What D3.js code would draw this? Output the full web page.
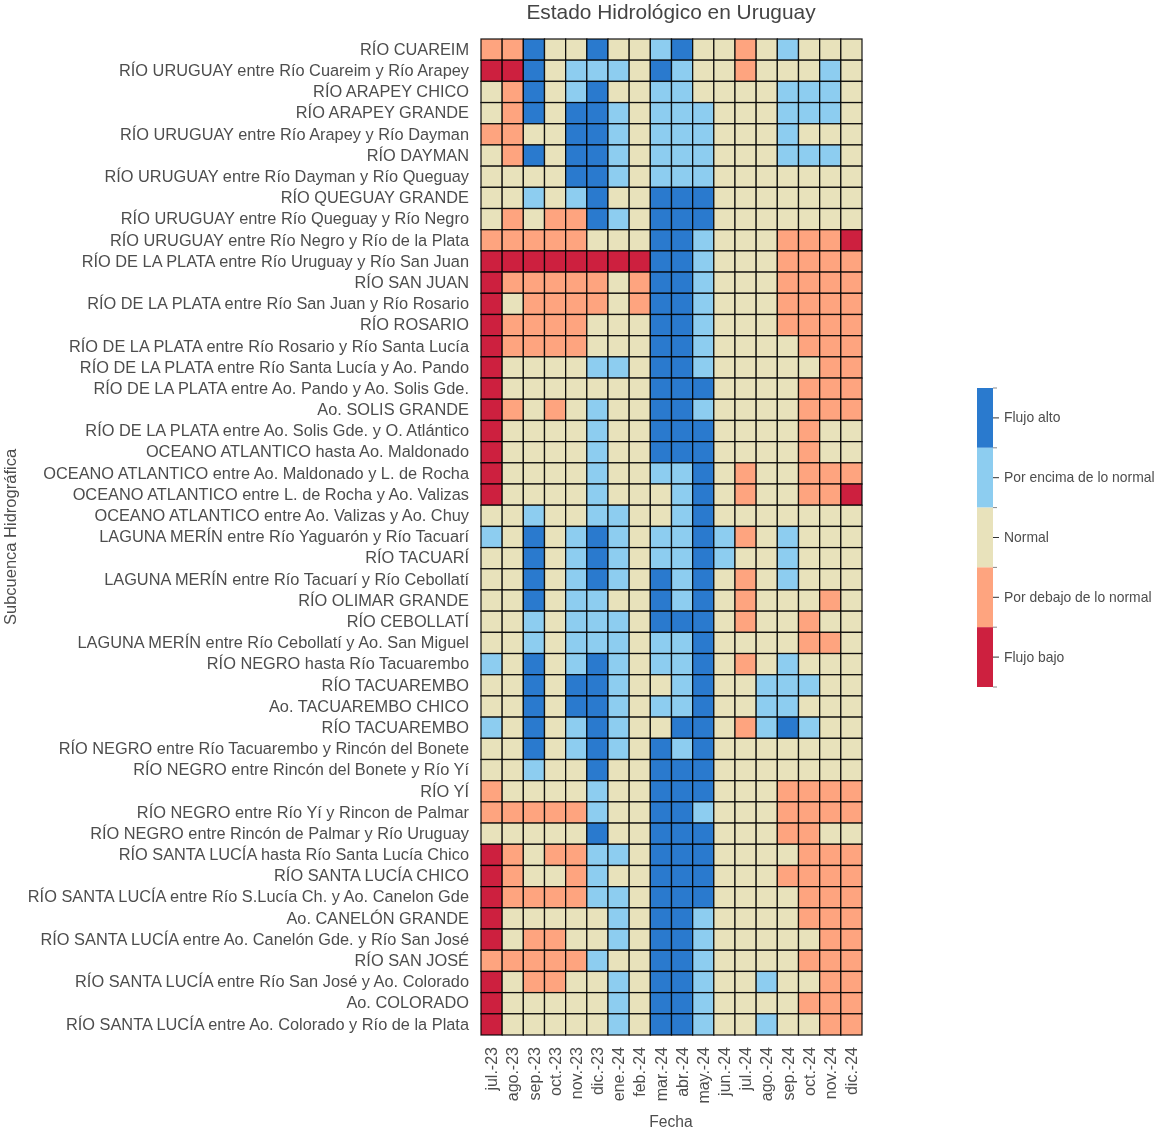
<!DOCTYPE html>
<html>
<head>
<meta charset="utf-8">
<script src="https://cdn.jsdelivr.net/npm/d3@7"></script>
<style>
    body { margin: 0; background: #ffffff; }
    svg { display: block; filter: blur(0.6px); }
    text { font-family: "Liberation Sans", Arial, sans-serif; fill: #4d4d4d; }
</style>
</head>
<body>
<div id="chart"></div>
<script>
// Categories
const subcuencas = [
    "RÍO CUAREIM",
    "RÍO URUGUAY entre Río Cuareim y Río Arapey",
    "RÍO ARAPEY CHICO",
    "RÍO ARAPEY GRANDE",
    "RÍO URUGUAY entre Río Arapey y Río Dayman",
    "RÍO DAYMAN",
    "RÍO URUGUAY entre Río Dayman y Río Queguay",
    "RÍO QUEGUAY GRANDE",
    "RÍO URUGUAY entre Río Queguay y Río Negro",
    "RÍO URUGUAY entre Río Negro y Río de la Plata",
    "RÍO DE LA PLATA entre Río Uruguay y Río San Juan",
    "RÍO SAN JUAN",
    "RÍO DE LA PLATA entre Río San Juan y Río Rosario",
    "RÍO ROSARIO",
    "RÍO DE LA PLATA entre Río Rosario y Río Santa Lucía",
    "RÍO DE LA PLATA entre Río Santa Lucía y Ao. Pando",
    "RÍO DE LA PLATA entre Ao. Pando y Ao. Solis Gde.",
    "Ao. SOLIS GRANDE",
    "RÍO DE LA PLATA entre Ao. Solis Gde. y O. Atlántico",
    "OCEANO ATLANTICO hasta Ao. Maldonado",
    "OCEANO ATLANTICO entre Ao. Maldonado y L. de Rocha",
    "OCEANO ATLANTICO entre L. de Rocha y Ao. Valizas",
    "OCEANO ATLANTICO entre Ao. Valizas y Ao. Chuy",
    "LAGUNA MERÍN entre Río Yaguarón y Río Tacuarí",
    "RÍO TACUARÍ",
    "LAGUNA MERÍN entre Río Tacuarí y Río Cebollatí",
    "RÍO OLIMAR GRANDE",
    "RÍO CEBOLLATÍ",
    "LAGUNA MERÍN entre Río Cebollatí y Ao. San Miguel",
    "RÍO NEGRO hasta Río Tacuarembo",
    "RÍO TACUAREMBO",
    "Ao. TACUAREMBO CHICO",
    "RÍO TACUAREMBO ",
    "RÍO NEGRO entre Río Tacuarembo y Rincón del Bonete",
    "RÍO NEGRO entre Rincón del Bonete y Río Yí",
    "RÍO YÍ",
    "RÍO NEGRO entre Río Yí y Rincon de Palmar",
    "RÍO NEGRO entre Rincón de Palmar y Río Uruguay",
    "RÍO SANTA LUCÍA hasta Río Santa Lucía Chico",
    "RÍO SANTA LUCÍA CHICO",
    "RÍO SANTA LUCÍA entre Río S.Lucía Ch. y Ao. Canelon Gde",
    "Ao. CANELÓN GRANDE",
    "RÍO SANTA LUCÍA entre Ao. Canelón Gde. y Río San José",
    "RÍO SAN JOSÉ",
    "RÍO SANTA LUCÍA entre Río San José y Ao. Colorado",
    "Ao. COLORADO",
    "RÍO SANTA LUCÍA entre Ao. Colorado y Río de la Plata"
];

const meses = ["jul.-23", "ago.-23", "sep.-23", "oct.-23", "nov.-23", "dic.-23", "ene.-24", "feb.-24", "mar.-24",
    "abr.-24", "may.-24", "jun.-24", "jul.-24", "ago.-24", "sep.-24", "oct.-24", "nov.-24", "dic.-24"];

// Legend order, top to bottom
const estados = ["Flujo alto", "Por encima de lo normal", "Normal", "Por debajo de lo normal", "Flujo bajo"];
const coloresEstado = ["#2a7ace", "#8dcdf0", "#e8e2bb", "#fea47f", "#cd203f"];

// 1 = Flujo bajo ... 5 = Flujo alto, one row per subcuenca
const valores = [
    [2,2,5,3,3,5,3,3,4,5,3,3,2,3,4,3,3,3],
    [1,1,5,3,4,4,4,3,5,4,3,3,2,3,3,3,4,3],
    [3,2,5,3,4,5,3,3,4,4,3,3,3,3,4,4,4,3],
    [3,2,5,3,5,5,4,3,4,4,4,3,3,3,4,4,4,3],
    [2,2,3,3,5,5,4,3,4,4,4,3,3,3,4,3,3,3],
    [3,2,5,3,5,5,4,3,4,4,4,3,3,3,4,4,4,3],
    [3,3,3,3,5,5,4,3,4,4,4,3,3,3,3,3,3,3],
    [3,3,4,3,4,5,3,3,5,5,5,3,3,3,3,3,3,3],
    [3,2,3,2,2,5,4,3,5,5,5,3,3,3,3,3,3,3],
    [2,2,2,2,2,3,3,3,5,5,4,3,3,3,2,2,2,1],
    [1,1,1,1,1,1,1,1,5,5,4,3,3,3,2,2,2,2],
    [1,2,2,2,2,2,3,2,5,5,4,3,3,3,2,2,2,2],
    [1,3,2,2,2,2,3,2,5,5,4,3,3,3,2,2,2,2],
    [1,2,2,2,2,3,3,3,5,5,4,3,3,3,2,2,2,2],
    [1,2,2,2,2,3,3,3,5,5,4,3,3,3,3,2,2,2],
    [1,3,3,3,3,4,4,3,5,5,4,3,3,3,3,3,2,2],
    [1,3,3,3,3,3,3,3,5,5,5,3,3,3,3,2,2,2],
    [1,2,3,2,3,4,3,3,5,5,4,3,3,3,3,2,2,2],
    [1,3,3,3,3,4,3,3,5,5,5,3,3,3,3,2,3,3],
    [1,3,3,3,3,4,3,3,5,5,5,3,3,3,3,2,3,3],
    [1,3,3,3,3,4,3,3,4,4,5,3,2,3,3,2,2,2],
    [1,3,3,3,3,4,3,3,3,4,5,3,2,3,3,2,2,1],
    [3,3,4,3,3,4,4,3,3,4,5,3,3,3,3,3,3,3],
    [4,3,5,3,4,5,4,3,4,4,5,4,2,3,4,3,3,3],
    [3,3,5,3,4,5,4,3,4,4,5,4,3,3,4,3,3,3],
    [3,3,5,3,4,5,4,3,5,4,5,3,2,3,4,3,3,3],
    [3,3,5,3,4,4,3,3,5,4,5,3,2,3,3,3,2,3],
    [3,3,4,3,4,4,4,3,5,5,5,3,2,3,3,2,3,3],
    [3,3,4,3,4,4,4,3,4,4,5,3,3,3,3,2,2,3],
    [4,3,5,3,4,5,4,3,4,4,5,3,2,3,4,3,3,3],
    [3,3,5,3,5,5,4,3,3,4,5,3,3,4,4,4,3,3],
    [3,3,5,3,5,5,4,3,4,4,5,3,3,4,4,3,3,3],
    [4,3,5,3,4,5,4,3,3,5,5,3,2,4,5,4,3,3],
    [3,3,5,3,4,5,4,3,5,4,5,3,3,3,3,3,3,3],
    [3,3,4,3,3,5,3,3,5,5,5,3,3,3,3,3,3,3],
    [2,3,3,3,3,4,3,3,5,5,5,3,3,3,2,2,2,2],
    [2,2,2,2,2,4,3,3,5,5,4,3,3,3,2,2,2,2],
    [3,3,3,3,3,5,3,3,5,5,5,3,3,3,2,2,3,3],
    [1,2,3,2,2,4,4,3,5,5,5,3,3,3,3,2,2,2],
    [1,2,3,3,2,4,3,3,5,5,5,3,3,3,2,2,2,2],
    [1,2,2,2,2,4,4,3,5,5,5,3,3,3,3,2,2,2],
    [1,3,3,3,3,3,4,3,5,5,4,3,3,3,3,2,2,2],
    [1,3,2,2,3,3,4,3,5,5,4,3,3,3,3,3,2,2],
    [2,2,2,2,2,4,3,3,5,5,4,3,3,3,3,2,2,2],
    [1,3,2,2,3,3,4,3,5,5,4,3,3,4,3,3,2,2],
    [1,3,3,3,3,3,4,3,5,5,4,3,3,3,3,2,2,2],
    [1,3,3,3,3,3,4,3,5,5,4,3,3,4,3,3,2,2]
];

const width = 1156;
const height = 1131;
const margin = { top: 39, right: 294, bottom: 96, left: 481 };

const svg = d3.select("#chart")
    .append("svg")
    .attr("width", width)
    .attr("height", height);

const xScale = d3.scaleBand()
    .domain(meses)
    .range([margin.left, width - margin.right]);

const yScale = d3.scaleBand()
    .domain(subcuencas)
    .range([margin.top, height - margin.bottom]);

const colorScale = d3.scaleOrdinal()
    .domain([5, 4, 3, 2, 1])
    .range(coloresEstado);

// Heatmap cells
const celdas = subcuencas.flatMap((s, i) => meses.map((m, j) => ({ s, m, v: valores[i][j] })));

svg.append("g")
    .attr("class", "cells")
    .selectAll("rect")
    .data(celdas)
    .enter()
    .append("rect")
    .attr("x", d => xScale(d.m))
    .attr("y", d => yScale(d.s))
    .attr("width", xScale.bandwidth())
    .attr("height", yScale.bandwidth())
    .attr("fill", d => colorScale(d.v))
    .attr("stroke", "#000000")
    .attr("stroke-opacity", 0.85)
    .attr("stroke-width", 1.3);

// Axes
const yAxis = svg.append("g")
    .attr("transform", `translate(${margin.left}, 0)`)
    .call(d3.axisLeft(yScale).tickSize(0).tickPadding(12));
yAxis.select(".domain").remove();
yAxis.selectAll("text").style("font-size", "16.35px").text(d => d.trim());

const xAxis = svg.append("g")
    .attr("transform", `translate(0, ${height - margin.bottom})`)
    .call(d3.axisBottom(xScale).tickSize(0));
xAxis.select(".domain").remove();
xAxis.selectAll("text")
    .style("font-size", "16px")
    .attr("text-anchor", "end")
    .attr("transform", "rotate(-90)")
    .attr("x", -12)
    .attr("y", 0)
    .attr("dy", "0.35em");

// Titles
svg.append("text")
    .attr("x", 671)
    .attr("y", 19)
    .attr("text-anchor", "middle")
    .style("font-size", "20.9px")
    .style("fill", "#444444")
    .text("Estado Hidrológico en Uruguay");

svg.append("text")
    .attr("x", 671)
    .attr("y", 1127)
    .attr("text-anchor", "middle")
    .style("font-size", "15.6px")
    .text("Fecha");

svg.append("text")
    .attr("transform", "translate(15.5, 537) rotate(-90)")
    .attr("text-anchor", "middle")
    .style("font-size", "16.5px")
    .text("Subcuenca Hidrográfica");

// Legend
const legendX = 977;
const legendWidth = 16;
const legendScale = d3.scaleBand()
    .domain(estados)
    .range([388, 687]);

const legend = svg.append("g").attr("class", "legend");

legend.selectAll("rect")
    .data(estados)
    .enter()
    .append("rect")
    .attr("x", legendX)
    .attr("y", d => legendScale(d))
    .attr("width", legendWidth)
    .attr("height", legendScale.bandwidth())
    .attr("fill", (d, i) => coloresEstado[i]);

const legendAxis = legend.append("g")
    .attr("transform", `translate(${legendX + legendWidth}, 0)`)
    .call(d3.axisRight(legendScale).tickSize(6).tickPadding(5));
legendAxis.select(".domain").remove();
legendAxis.selectAll("line").attr("stroke", "#333333");
legendAxis.selectAll("text").style("font-size", "13.9px");

// Small ticks on the colour boundaries
legend.selectAll(".edge")
    .data([...estados.map(d => legendScale(d)), legendScale.range()[1]])
    .enter()
    .append("line")
    .attr("class", "edge")
    .attr("x1", legendX + legendWidth)
    .attr("x2", legendX + legendWidth + 4)
    .attr("y1", d => d)
    .attr("y2", d => d)
    .attr("stroke", "#888888");
</script>
</body>
</html>
